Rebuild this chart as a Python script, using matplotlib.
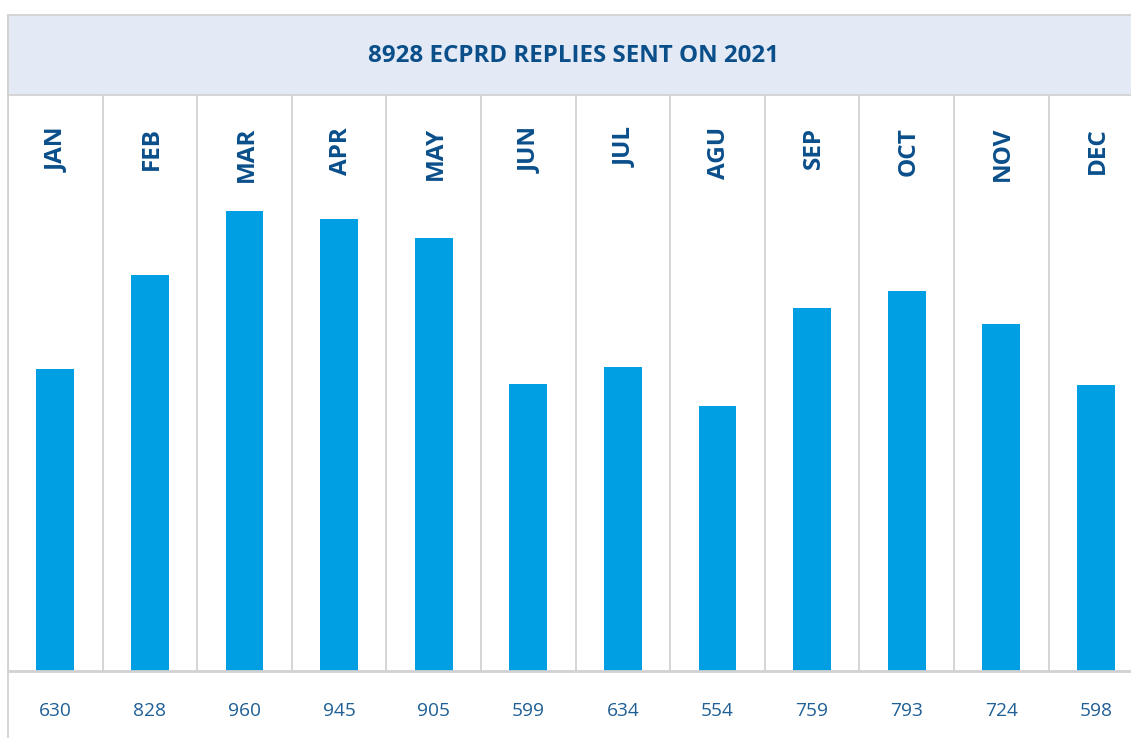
import matplotlib.pyplot as plt
import matplotlib.transforms as mtransforms
from matplotlib.patches import Rectangle
from matplotlib.lines import Line2D

W, H = 1131, 738

months = ["JAN", "FEB", "MAR", "APR", "MAY", "JUN",
          "JUL", "AGU", "SEP", "OCT", "NOV", "DEC"]
replies = [630, 828, 960, 945, 905, 599, 634, 554, 759, 793, 724, 598]
title = "8928 ECPRD REPLIES SENT ON 2021"

bar_color = "#009FE3"
text_color = "#0A4F8A"
value_color = "#1F5F95"
grid_color = "#D2D2D2"
band_color = "#E4EAF5"

fig = plt.figure(figsize=(W / 100, H / 100), dpi=100)

# plot area: 12 columns of ~94.5 px starting at x=8, baseline at y=671
left, base, top, colw = 8, 671, 95, 94.6
ax = fig.add_axes([left / W, (H - base) / H, 12 * colw / W, (base - top) / H])
x = list(range(len(months)))
ax.bar(x, replies, width=0.40, color=bar_color, zorder=2)
ax.set_xlim(-0.5, 11.5)
ax.set_ylim(0, 1203)
ax.axis("off")

for i in range(len(months) + 1):
    ax.axvline(i - 0.5, color=grid_color, lw=1.3, zorder=1)
ax.axhline(0, color=grid_color, lw=2, zorder=3, clip_on=False)

# month names (rotated) and values below
trans = mtransforms.blended_transform_factory(ax.transData, fig.transFigure)
for i, (m, v) in enumerate(zip(months, replies)):
    ax.text(i + 0.02, (H - 127) / H, m, transform=trans, rotation=90,
            ha="center", va="top", fontsize=17.5, fontweight="bold",
            family="Open Sans", color=text_color)
    ax.text(i, (H - 711) / H, str(v), transform=trans,
            ha="center", va="center", fontsize=13.8,
            family="Open Sans", color=value_color, clip_on=False)

# title band
fig.patches.append(Rectangle((left / W, (H - top) / H), 1.0, (top - 15) / H,
                             transform=fig.transFigure, facecolor=band_color,
                             edgecolor=grid_color, lw=1.3, zorder=0))
fig.text(574 / W, (H - 56) / H, title, ha="center", va="center",
         fontsize=17.4, fontweight="bold", family="Open Sans", color=text_color)

# left border running down to the bottom
fig.lines.append(Line2D([left / W, left / W], [0, (H - 15) / H],
                        transform=fig.transFigure, color=grid_color, lw=1.3))

fig.savefig("out.png", dpi=100)
